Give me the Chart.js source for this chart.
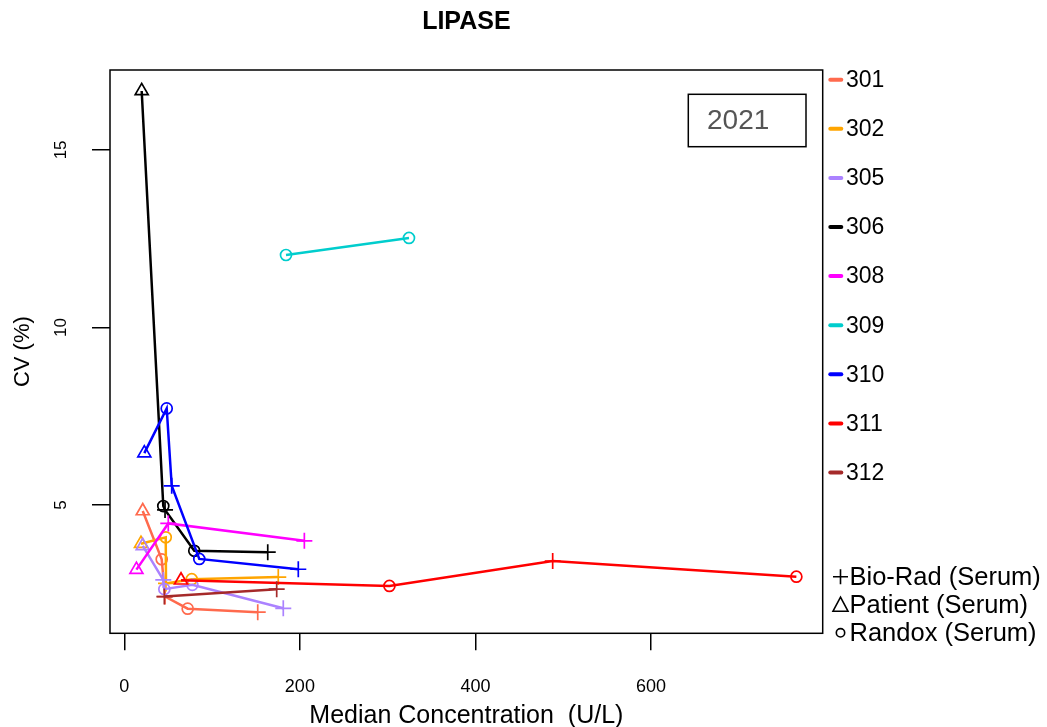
<!DOCTYPE html>
<html>
<head>
<meta charset="utf-8">
<title>LIPASE</title>
<script src="https://cdn.jsdelivr.net/npm/chart.js@4.4.1/dist/chart.umd.min.js"></script>
<style>
  html, body { margin: 0; padding: 0; background: #ffffff; }
  #wrap { width: 1047px; height: 727px; }
</style>
</head>
<body>
<div id="wrap"><canvas id="cvChart" width="1047" height="727"></canvas></div>
<script>
const labs = ["301", "302", "305", "306", "308", "309", "310", "311", "312"];
const labColors = ["#FF6A4D", "#FFA500", "#AB82FF", "#000000", "#FF00FF", "#00CDCD", "#0000FF", "#FF0000", "#A52A2A"];

// median concentration (U/L), one list per lab, left to right
const medianConc = [
  [21.0, 42.6, 46.4, 72.2, 152.0],
  [19.0, 47.2, 47.5, 76.8, 175.4],
  [21.0, 44.4, 45.6, 77.5, 181.1],
  [19.8, 44.4, 46.4, 79.7, 163.4],
  [13.8, 50.1, 205.1],
  [184.2, 324.3],
  [22.8, 48.3, 54.0, 85.4, 198.2],
  [64.6, 302.0, 488.0, 765.6],
  [45.6, 173.6]
];

// CV (%) for the same points
const cvPercent = [
  [4.83, 3.47, 2.42, 2.08, 1.98],
  [3.91, 4.09, 2.79, 2.91, 2.97],
  [3.85, 2.89, 2.63, 2.75, 2.09],
  [16.66, 4.97, 4.86, 3.71, 3.67],
  [3.18, 4.48, 3.99],
  [12.04, 12.52],
  [6.46, 7.72, 5.54, 3.48, 3.19],
  [2.88, 2.72, 3.42, 2.98],
  [2.42, 2.63]
];

// control material of each point: B = Bio-Rad, P = Patient, R = Randox
const materials = [
  ["P", "R", "B", "R", "B"],
  ["P", "R", "B", "R", "B"],
  ["P", "B", "R", "R", "B"],
  ["P", "R", "B", "R", "B"],
  ["P", "B", "B"],
  ["R", "R"],
  ["P", "R", "B", "R", "B"],
  ["P", "R", "B", "R"],
  ["B", "B"]
];

const materialNames = ["Bio-Rad (Serum)", "Patient (Serum)", "Randox (Serum)"];
const xTicks = [0, 200, 400, 600];
const yTicks = [5, 10, 15];
const chartTitle = "LIPASE";
const yearLabel = "2021";

const FONT = "'Liberation Sans', Arial, Helvetica, sans-serif";
const pointStyles = { B: "cross", P: "triangle", R: "circle" };
const pointSizes = { B: 8, P: 7.5, R: 5.5 };

Chart.defaults.font.family = FONT;
Chart.defaults.color = "#000000";

let datasets = labs.map((lab, i) => ({
  label: lab,
  data: medianConc[i].map((x, j) => ({ x: x, y: cvPercent[i][j] })),
  showLine: true,
  borderColor: labColors[i],
  borderWidth: 2.5,
  tension: 0,
  fill: false,
  pointStyle: materials[i].map(m => pointStyles[m]),
  pointRadius: materials[i].map(m => pointSizes[m]),
  pointHoverRadius: materials[i].map(m => pointSizes[m]),
  pointBorderWidth: 1.7,
  pointBorderColor: labColors[i],
  pointBackgroundColor: "rgba(0,0,0,0)",
  order: labs.length - i
}));

// frame, title, year box and the two legends at the right
const decorations = {
  id: "decorations",
  afterDraw(chart) {
    const ctx = chart.ctx;
    const a = chart.chartArea;
    ctx.save();

    ctx.strokeStyle = "#000000";
    ctx.lineWidth = 1.5;
    ctx.strokeRect(a.left, a.top, a.right - a.left, a.bottom - a.top);

    // title centred over the plot region
    ctx.fillStyle = "#000000";
    ctx.font = "bold 25px " + FONT;
    ctx.textAlign = "center";
    ctx.textBaseline = "middle";
    ctx.fillText(chartTitle, (a.left + a.right) / 2, 22);

    // year box
    ctx.strokeRect(688.3, 94.3, 117.7, 52.4);
    ctx.fillStyle = "#555555";
    ctx.font = "28px " + FONT;
    ctx.textAlign = "left";
    ctx.fillText(yearLabel, 707, 121.5);

    // lab legend
    ctx.font = "23px " + FONT;
    ctx.fillStyle = "#000000";
    labs.forEach((lab, i) => {
      const y = 79.7 + i * 49.1;
      ctx.strokeStyle = labColors[i];
      ctx.lineWidth = 4;
      ctx.lineCap = "round";
      ctx.beginPath();
      ctx.moveTo(830.3, y);
      ctx.lineTo(841.3, y);
      ctx.stroke();
      ctx.fillText(lab, 846, y + 1);
    });

    // material legend
    ctx.strokeStyle = "#000000";
    ctx.lineWidth = 1.6;
    ctx.lineCap = "butt";
    ctx.font = "25.5px " + FONT;
    const symY = [576.7, 605.2, 632.8];
    const sx = 840.5;
    // plus
    ctx.beginPath();
    ctx.moveTo(sx - 7.5, symY[0]); ctx.lineTo(sx + 7.5, symY[0]);
    ctx.moveTo(sx, symY[0] - 7.5); ctx.lineTo(sx, symY[0] + 7.5);
    ctx.stroke();
    // triangle
    ctx.beginPath();
    ctx.moveTo(sx, symY[1] - 8);
    ctx.lineTo(sx + 7.5, symY[1] + 6);
    ctx.lineTo(sx - 7.5, symY[1] + 6);
    ctx.closePath();
    ctx.stroke();
    // circle
    ctx.beginPath();
    ctx.arc(sx, symY[2], 4.2, 0, Math.PI * 2);
    ctx.stroke();
    materialNames.forEach((name, i) => {
      ctx.fillText(name, 849.5, symY[i] + 1);
    });

    ctx.restore();
  }
};

const ctx = document.getElementById("cvChart").getContext("2d");

const chart = new Chart(ctx, {
  type: "scatter",
  data: { datasets: datasets },
  options: {
    responsive: false,
    animation: false,
    devicePixelRatio: 1,
    layout: { padding: { left: 0, right: 224.3, top: 70, bottom: 0 } },
    plugins: {
      legend: { display: false },
      tooltip: { enabled: false },
      title: { display: false }
    },
    scales: {
      x: {
        type: "linear",
        min: -16.3,
        max: 795.6,
        afterBuildTicks: scale => { scale.ticks = xTicks.map(v => ({ value: v })); },
        afterFit: scale => { scale.height = 93.7; },
        border: { display: false },
        grid: { drawOnChartArea: false, drawTicks: true, tickLength: 17, color: "#000000", lineWidth: 1.5 },
        ticks: { font: { size: 18 }, color: "#000000", padding: 25.6, maxRotation: 0 },
        title: {
          display: true,
          text: "Median Concentration  (U/L)",
          color: "#000000",
          font: { size: 25, lineHeight: 0.9 },
          padding: { top: 0, bottom: 0 }
        }
      },
      y: {
        type: "linear",
        min: 1.386,
        max: 17.25,
        afterBuildTicks: scale => { scale.ticks = yTicks.map(v => ({ value: v })); },
        afterFit: scale => { scale.width = 110; },
        border: { display: false },
        grid: { drawOnChartArea: false, drawTicks: true, tickLength: 18, color: "#000000", lineWidth: 1.5 },
        ticks: { font: { size: 17 }, color: "#000000", padding: 21, minRotation: 90, maxRotation: 90, crossAlign: "center" },
        title: {
          display: true,
          text: "CV (%)",
          color: "#000000",
          font: { size: 22 },
          padding: { top: 10, bottom: 0 }
        }
      }
    }
  },
  plugins: [decorations]
});
</script>
</body>
</html>
